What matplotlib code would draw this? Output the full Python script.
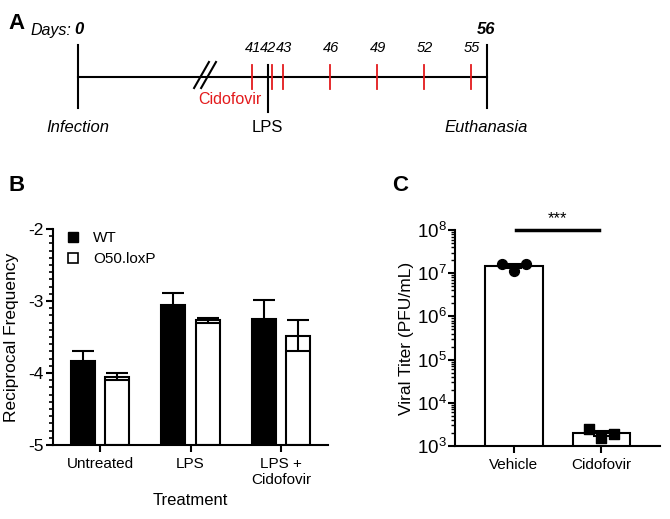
import numpy as np
import matplotlib.pyplot as plt
from matplotlib.lines import Line2D
from matplotlib.ticker import MultipleLocator, LogLocator, NullFormatter

plt.rcParams['font.family'] = ['Liberation Sans', 'DejaVu Sans']
plt.rcParams['font.size'] = 11
plt.rcParams['axes.unicode_minus'] = False

# Panel A : timeline
jours_cido = [41, 42, 43, 46, 49, 52, 55]
jour_lps = 42
jour_fin = 56

# Panel B
groupes = ['Untreated', 'LPS', 'LPS +\nCidofovir']
wt = [-3.83, -3.06, -3.25]
wt_err = [0.14, 0.17, 0.26]
lox = [-4.05, -3.27, -3.48]
lox_err = [0.05, 0.04, 0.21]

# Panel C
conditions = ['Vehicle', 'Cidofovir']
vehicule = [1.6e7, 1.15e7, 1.6e7]
cidofovir = [2.5e3, 1.5e3, 1.9e3]

fig = plt.figure(figsize=(6.7, 5.19), dpi=100)

# ---------- A ----------
axA = fig.add_axes([0, 1 - 150 / 519, 1, 150 / 519])
axA.set_xlim(24.89, 67.73)
axA.set_ylim(150, 0)
axA.axis('off')

def pos(j):
    # axe coupé entre 0 et 41
    return j if j > 0 else 29.88

yl = 77
axA.plot([pos(0), pos(jour_fin)], [yl, yl], color='black', lw=1.5)
axA.plot([pos(0)] * 2, [45, 108], color='black', lw=1.5)
axA.plot([pos(jour_fin)] * 2, [45, 108], color='black', lw=1.5)
axA.plot([pos(jour_lps)] * 2, [65, 112], color='black', lw=1.5)
for d in [37.3, 37.75]:
    axA.plot([d, d + 0.95], [88, 62], color='black', lw=1.5)
for j in jours_cido:
    x = pos(j) + (0.28 if j == jour_lps else 0)
    axA.plot([x, x], [65, 89], color='#e31a1c', lw=1.3)
    axA.text(pos(j) + 0.05, 48, str(j), ha='center', va='center', style='italic', fontsize=10.5)
axA.text(pos(jour_fin), 30, str(jour_fin), ha='center', va='center', style='italic',
         weight='bold', fontsize=12)
axA.text(29.45, 30, 'Days:', ha='right', va='center', style='italic', fontsize=11.5)
axA.text(pos(0) + 0.05, 30, '0', ha='center', va='center', style='italic', weight='bold',
         fontsize=12)
axA.text(pos(jour_lps) - 0.4, 100, 'Cidofovir', ha='right', va='center', color='#e31a1c',
         fontsize=11.5)
axA.text(pos(jour_lps), 127, 'LPS', ha='center', va='center', fontsize=12)
axA.text(pos(0), 127, 'Infection', ha='center', va='center', style='italic', fontsize=12)
axA.text(pos(jour_fin), 127, 'Euthanasia', ha='center', va='center', style='italic',
         fontsize=12)
fig.text(0.012, 0.975, 'A', weight='bold', fontsize=16, va='top')

# ---------- B ----------
axB = fig.add_axes([53 / 670, 1 - 445 / 519, 275 / 670, 216 / 519])
x = np.arange(len(groupes))
larg = 0.265
dec = 0.19
axB.bar(x - dec, np.array(wt) + 5, bottom=-5, width=larg, color='black',
        edgecolor='black', lw=1.5, label='WT')
axB.bar(x + dec, np.array(lox) + 5, bottom=-5, width=larg, color='white',
        edgecolor='black', lw=1.5, label='O50.loxP')
axB.errorbar(x - dec, wt, yerr=wt_err, fmt='none', ecolor='black', elinewidth=1.5,
             capsize=8, capthick=1.5)
axB.errorbar(x + dec, lox, yerr=lox_err, fmt='none', ecolor='black', elinewidth=1.5,
             capsize=8, capthick=1.5)
axB.set_xlim(-0.52, 2.52)
axB.set_ylim(-5, -2)
axB.yaxis.set_major_locator(MultipleLocator(1))
axB.yaxis.set_minor_locator(MultipleLocator(0.1))
axB.set_xticks(x)
axB.set_xticklabels(groupes, fontsize=11)
axB.tick_params(axis='y', labelsize=12.5, pad=2)
axB.tick_params(which='major', width=1.5, length=5)
axB.tick_params(which='minor', width=1.2, length=3)
for s in ['top', 'right']:
    axB.spines[s].set_visible(False)
for s in ['left', 'bottom']:
    axB.spines[s].set_linewidth(1.5)
axB.set_ylabel('Reciprocal Frequency', fontsize=12.5, labelpad=6)
axB.set_xlabel('Treatment', fontsize=12)
poignees = [Line2D([], [], marker='s', ls='none', mfc='black', mec='black', ms=7, label='WT'),
            Line2D([], [], marker='s', ls='none', mfc='white', mec='black', mew=1.2, ms=7,
                   label='O50.loxP')]
axB.legend(handles=poignees, loc='upper left', bbox_to_anchor=(-0.02, 1.04), frameon=False,
           fontsize=11, handletextpad=0.3, borderaxespad=0.3, labelspacing=0.45)
fig.text(0.012, 1 - 175 / 519, 'B', weight='bold', fontsize=16, va='top')

# ---------- C ----------
axC = fig.add_axes([455 / 670, 1 - 446 / 519, 205 / 670, 216 / 519])
xc = np.arange(len(conditions))
groupes_c = [vehicule, cidofovir]
moy = [np.mean(g) for g in groupes_c]
sem = [np.std(g, ddof=1) / np.sqrt(len(g)) for g in groupes_c]
axC.bar(xc, moy, width=0.66, color='white', edgecolor='black', lw=1.5, zorder=2)
axC.errorbar(xc, moy, yerr=sem, fmt='none', ecolor='black', elinewidth=1.5,
             capsize=6, capthick=1.5, zorder=3)
jit = [-0.14, 0.0, 0.14]
axC.scatter(xc[0] + np.array(jit), vehicule, marker='o', s=50, color='black', zorder=4)
axC.scatter(xc[1] + np.array(jit), cidofovir, marker='s', s=45, color='black', zorder=4)
axC.set_yscale('log')
axC.set_ylim(1e3, 1e8)
axC.set_xlim(-0.674, 1.669)
axC.yaxis.set_major_locator(LogLocator(base=10, numticks=10))
axC.yaxis.set_minor_locator(LogLocator(base=10, subs=np.arange(2, 10), numticks=20))
axC.yaxis.set_minor_formatter(NullFormatter())
axC.set_xticks(xc)
axC.set_xticklabels(conditions, fontsize=11)
axC.tick_params(axis='y', labelsize=13.5, pad=1)
axC.tick_params(which='major', width=1.5, length=5)
axC.tick_params(which='minor', width=1.0, length=3)
for s in ['top', 'right']:
    axC.spines[s].set_visible(False)
for s in ['left', 'bottom']:
    axC.spines[s].set_linewidth(1.5)
axC.set_ylabel('Viral Titer (PFU/mL)', fontsize=12.5, labelpad=2)
axC.plot([0.02, 0.97], [1e8, 1e8], color='black', lw=2.5, clip_on=False)
axC.text(0.5, 1.2e8, '***', ha='center', va='bottom', fontsize=12)
fig.text(392 / 670, 1 - 175 / 519, 'C', weight='bold', fontsize=16, va='top')

fig.savefig('out.png', dpi=100)
